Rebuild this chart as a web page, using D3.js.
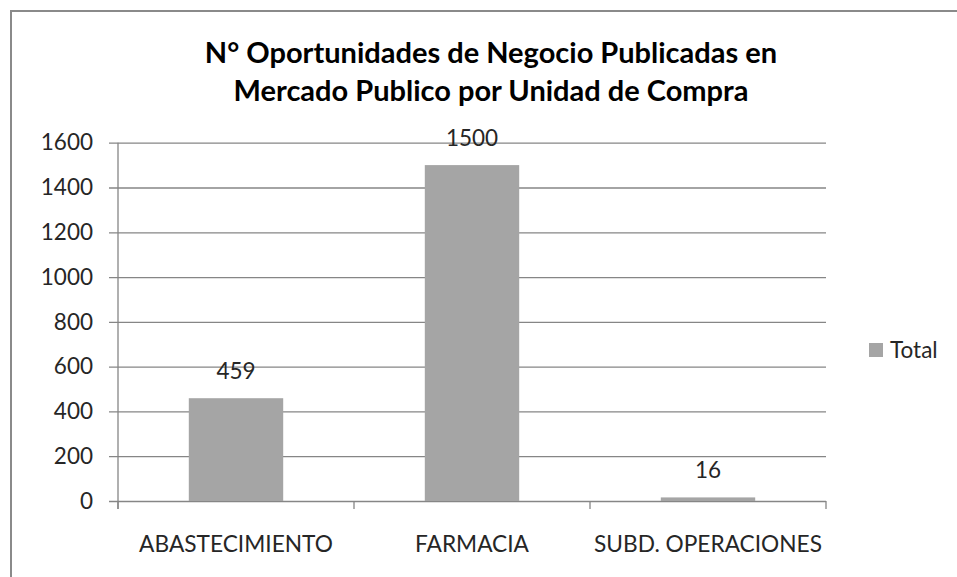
<!DOCTYPE html>
<html>
<head>
<meta charset="utf-8">
<script src="https://cdn.jsdelivr.net/npm/d3@7"></script>
<style>
  body { margin: 0; background: #fff; }
  text { font-family: Lato, "Open Sans", sans-serif; }
</style>
</head>
<body>
<svg id="chart" width="957" height="577"></svg>
<script>
    // data
    const categories = ["ABASTECIMIENTO", "FARMACIA", "SUBD. OPERACIONES"];
    const totals = [459, 1500, 16];
    const yTicks = [0, 200, 400, 600, 800, 1000, 1200, 1400, 1600];
    const titleLines = ["N° Oportunidades de Negocio Publicadas en", "Mercado Publico por Unidad de Compra"];
    const seriesName = "Total";

    const svg = d3.select('#chart');
    const grey = "#868686";
    const barColor = "#a5a5a5";

    svg.append("rect")
        .attr("width", 957).attr("height", 577)
        .attr("fill", "#fff");

    // outer frame (cropped on right/bottom)
    svg.append("rect")
        .attr("x", 11).attr("y", 11)
        .attr("width", 1200).attr("height", 1200)
        .attr("fill", "none")
        .attr("stroke", "#8a8a8a")
        .attr("stroke-width", 2);

    const plot = { left: 118, right: 826, top: 142.7, bottom: 501 };

    const y = d3.scaleLinear()
        .domain([0, 1600])
        .range([plot.bottom, plot.top]);

    const x = d3.scaleBand()
        .domain(categories)
        .range([plot.left, plot.right])
        .paddingInner(0.6)
        .paddingOuter(0.3);

    // title
    svg.append("g")
        .selectAll("text")
        .data(titleLines)
        .join("text")
        .attr("x", 491)
        .attr("y", (d, i) => 62.5 + i * 38.5)
        .attr("text-anchor", "middle")
        .attr("font-weight", "bold")
        .attr("font-size", 29)
        .attr("fill", "#000")
        .text(d => d);

    // y axis with gridlines
    const yAxis = d3.axisLeft(y)
        .tickValues(yTicks)
        .tickFormat(d3.format("d"))
        .tickSize(-(plot.right - plot.left))
        .tickSizeOuter(0);

    const gy = svg.append("g")
        .attr("transform", `translate(${plot.left},0)`)
        .call(yAxis);
    gy.select(".domain").remove();
    gy.selectAll(".tick line")
        .attr("stroke", grey)
        .attr("stroke-width", 1.3)
        .attr("x2", plot.right - plot.left)
        .attr("x1", -9);
    gy.selectAll(".tick text")
        .attr("x", -25)
        .attr("font-size", 22.5)
        .attr("font-family", "Lato, sans-serif")
        .attr("fill", "#262626");

    // vertical axis line
    svg.append("line")
        .attr("x1", plot.left).attr("x2", plot.left)
        .attr("y1", plot.top).attr("y2", plot.bottom + 8)
        .attr("stroke", grey).attr("stroke-width", 1.3);

    // category boundary ticks
    const bounds = [plot.left].concat(categories.map(c => x(c) - x.step() * x.paddingInner() / 2 + x.step()));
    svg.append("g")
        .selectAll("line")
        .data(bounds)
        .join("line")
        .attr("x1", d => d).attr("x2", d => d)
        .attr("y1", plot.bottom).attr("y2", plot.bottom + 8)
        .attr("stroke", grey).attr("stroke-width", 1.3);

    // bars
    svg.append("g")
        .selectAll("rect")
        .data(totals)
        .join("rect")
        .attr("x", (d, i) => x(categories[i]))
        .attr("y", d => y(d))
        .attr("width", x.bandwidth())
        .attr("height", d => y(0) - y(d))
        .attr("fill", barColor);

    // value labels
    svg.append("g")
        .selectAll("text")
        .data(totals)
        .join("text")
        .attr("x", (d, i) => x(categories[i]) + x.bandwidth() / 2)
        .attr("y", d => y(d) - 19)
        .attr("text-anchor", "middle")
        .attr("font-size", 22.5)
        .attr("fill", "#262626")
        .text(d => d);

    // category labels
    svg.append("g")
        .selectAll("text")
        .data(categories)
        .join("text")
        .attr("x", d => x(d) + x.bandwidth() / 2)
        .attr("y", 551.5)
        .attr("text-anchor", "middle")
        .attr("font-size", 22.7)
        .attr("fill", "#262626")
        .text(d => d);

    // legend
    const legend = svg.append("g").attr("transform", "translate(869,343)");
    legend.append("rect")
        .attr("width", 14).attr("height", 14)
        .attr("fill", barColor);
    legend.append("text")
        .attr("x", 21).attr("y", 15)
        .attr("font-size", 22.5)
        .attr("fill", "#262626")
        .text(seriesName);
</script>
</body>
</html>
